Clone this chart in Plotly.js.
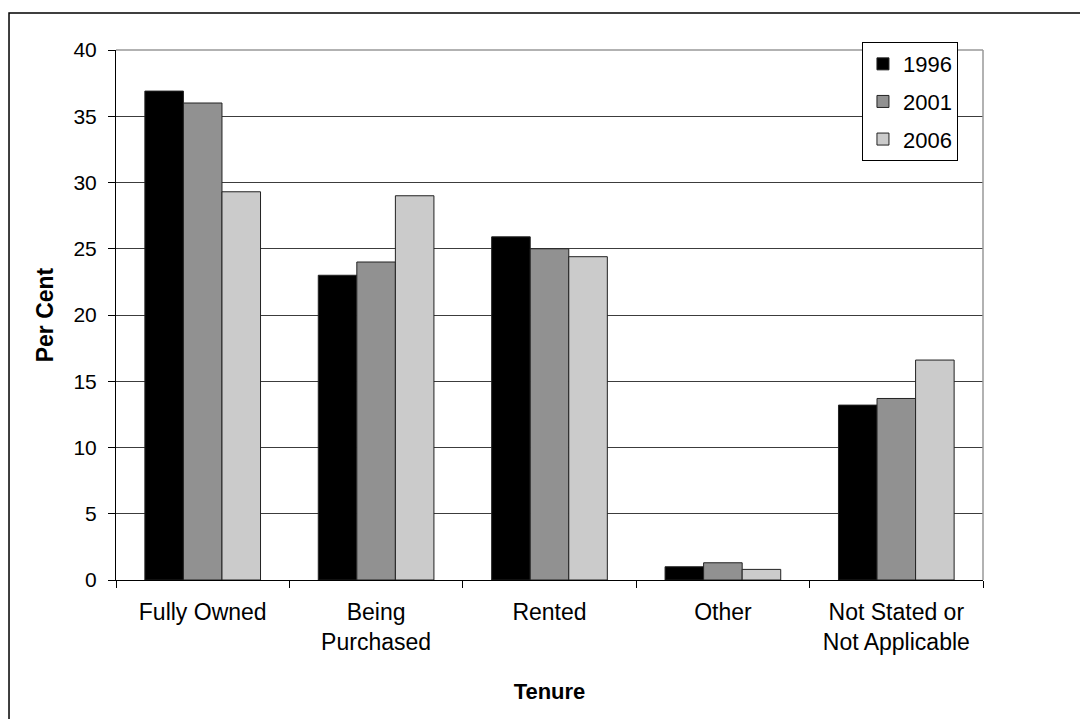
<!DOCTYPE html>
<html>
<head>
<meta charset="utf-8">
<script src="https://cdn.plot.ly/plotly-3.0.1.min.js"></script>
<style>
  html, body { margin: 0; padding: 0; background: #ffffff; }
  #chart { width: 1080px; height: 719px; }
</style>
</head>
<body>
<div id="chart"></div>
<script>
// ---- Data ----
const categories = ['Fully Owned', 'Being Purchased', 'Rented', 'Other', 'Not Stated or Not Applicable'];
const tickLabels = ['Fully Owned', 'Being<br>Purchased', 'Rented', 'Other', 'Not Stated or<br>Not Applicable'];
const seriesNames = ['1996', '2001', '2006'];
const values1996 = [36.9, 23.0, 25.9, 1.0, 13.2];
const values2001 = [36.0, 24.0, 25.0, 1.3, 13.7];
const values2006 = [29.3, 29.0, 24.4, 0.8, 16.6];
const yTickVals = [0, 5, 10, 15, 20, 25, 30, 35, 40];

// ---- Styles ----
const colors = ['#000000', '#919191', '#cbcbcb'];
const FONT = 'Arial, "Liberation Sans", sans-serif';

const allValues = [values1996, values2001, values2006];
const traces = allValues.map((vals, i) => ({
  type: 'bar',
  name: seriesNames[i],
  x: categories,
  y: vals,
  legendgroup: 'g' + i,
  marker: { color: colors[i], line: { color: '#222222', width: 1 } },
  hoverinfo: 'x+y+name'
}));

const layout = {
  width: 1080,
  height: 719,
  margin: { l: 116, r: 97, t: 50, b: 139, pad: 0 },
  paper_bgcolor: '#ffffff',
  plot_bgcolor: '#ffffff',
  font: { family: FONT, color: '#000000', size: 20 },
  barmode: 'group',
  bargap: 0.333,
  bargroupgap: 0,
  showlegend: true,
  legend: {
    x: 0.8604, xanchor: 'left',
    y: 1.015, yanchor: 'top',
    bgcolor: '#ffffff',
    bordercolor: '#000000',
    borderwidth: 1,
    font: { family: FONT, size: 22, color: '#000000' },
    tracegroupgap: 6,
    itemwidth: 30
  },
  xaxis: {
    type: 'category',
    categoryorder: 'array',
    categoryarray: categories,
    tickvals: categories,
    ticktext: tickLabels,
    tickson: 'boundaries',
    ticks: 'outside',
    ticklen: 7,
    tickcolor: '#000000',
    tickwidth: 1,
    ticklabelstandoff: 11,
    showline: true,
    linecolor: '#000000',
    linewidth: 1,
    showgrid: false,
    zeroline: false,
    tickfont: { family: FONT, size: 23, color: '#000000' },
    title: { text: '<b>Tenure</b>', font: { family: FONT, size: 22, color: '#000000' }, standoff: 30 }
  },
  yaxis: {
    range: [0, 40],
    tickvals: yTickVals,
    ticks: 'outside',
    ticklen: 7,
    tickcolor: '#000000',
    tickwidth: 1,
    ticklabelstandoff: 7,
    showline: true,
    linecolor: '#000000',
    linewidth: 1,
    showgrid: true,
    gridcolor: '#3c3c3c',
    gridwidth: 1,
    zeroline: false,
    tickfont: { family: FONT, size: 21, color: '#000000' },
    title: { text: '<b>Per Cent</b>', font: { family: FONT, size: 23, color: '#000000' }, standoff: 13 }
  },
  shapes: [
    // plot area border (top and right, gray)
    { type: 'line', xref: 'paper', yref: 'paper', x0: 0, x1: 1, y0: 1, y1: 1, line: { color: '#999999', width: 1.5 }, layer: 'above' },
    { type: 'line', xref: 'paper', yref: 'paper', x0: 1, x1: 1, y0: 0, y1: 1, line: { color: '#999999', width: 1.5 }, layer: 'above' },
    // outer chart border
    { type: 'rect', xref: 'paper', yref: 'paper', x0: -0.1234, x1: 1.2, y0: -0.4, y1: 1.0698, line: { color: '#000000', width: 1.5 }, fillcolor: 'rgba(0,0,0,0)', layer: 'below' }
  ]
};

Plotly.newPlot('chart', traces, layout, { displayModeBar: false, staticPlot: true });
</script>
</body>
</html>
